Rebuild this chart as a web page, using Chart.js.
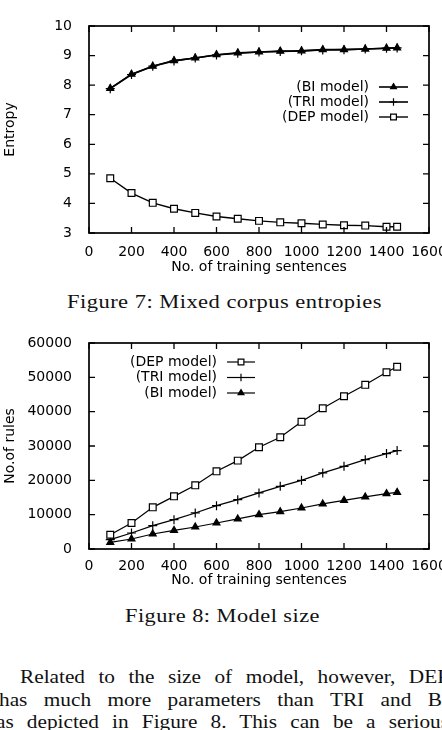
<!DOCTYPE html>
<html>
<head>
<meta charset="utf-8">
<script src="https://cdn.jsdelivr.net/npm/chart.js@4.4.1/dist/chart.umd.min.js"></script>
<style>
  html, body { margin: 0; padding: 0; background: #fff; }
  body { width: 442px; height: 730px; overflow: hidden; position: relative; }
  canvas { position: absolute; left: 0; }
  #c1 { top: 0; }
  #c2 { top: 300px; }
  .txt {
    position: absolute; white-space: nowrap; display: inline-block; transform-origin: 0 0;
    font-family: "Liberation Serif", "DejaVu Serif", serif; font-size: 19px; line-height: 19px; color: #111;
  }
</style>
</head>
<body>
<canvas id="c1" width="480" height="276"></canvas>
<span class="txt" style="left:67px; top:292px" data-w="315" data-mode="cap">Figure 7: Mixed corpus entropies</span>
<canvas id="c2" width="480" height="289"></canvas>
<span class="txt" style="left:125px; top:606px" data-w="195" data-mode="cap">Figure 8: Model size</span>
<span class="txt" style="left:20px; top:667px" data-w="429" data-mode="word">Related to the size of model, however, DEP</span>
<span class="txt" style="left:-1px; top:690px" data-w="450" data-mode="word">has much more parameters than TRI and BI</span>
<span class="txt" style="left:-4px; top:712px" data-w="453" data-mode="word">as depicted in Figure 8. This can be a serious</span>

<script>
// values
const sentences = [100, 200, 300, 400, 500, 600, 700, 800, 900, 1000, 1100, 1200, 1300, 1400, 1450];
const xTicks = [0, 200, 400, 600, 800, 1000, 1200, 1400, 1600];

// Figure 7: entropy
const entropyBI  = [7.89, 8.37, 8.64, 8.83, 8.92, 9.03, 9.09, 9.12, 9.15, 9.16, 9.20, 9.20, 9.22, 9.25, 9.26];
const entropyTRI = [7.88, 8.36, 8.64, 8.82, 8.92, 9.02, 9.08, 9.12, 9.14, 9.16, 9.19, 9.20, 9.22, 9.25, 9.26];
const entropyDEP = [4.85, 4.35, 4.02, 3.82, 3.68, 3.56, 3.48, 3.41, 3.36, 3.33, 3.29, 3.26, 3.25, 3.21, 3.21];

// Figure 8: number of rules
const rulesDEP = [4170, 7580, 12130, 15330, 18540, 22620, 25740, 29620, 32540, 37030, 41000, 44490, 47810, 51490, 53060];
const rulesTRI = [2710, 4660, 6790, 8540, 10500, 12620, 14370, 16330, 18250, 20000, 22160, 24080, 26030, 27780, 28660];
const rulesBI  = [1920, 2910, 4370, 5420, 6410, 7580, 8750, 10000, 10870, 11950, 13120, 14170, 15160, 16120, 16500];

const FONT = { family: '"DejaVu Sans", sans-serif', size: 14 };

function pts(ys) {
    return sentences.map((x, i) => ({ x: x, y: ys[i] }));
}

function series(label, ys, style, width) {
    const base = {
        label: label,
        data: pts(ys),
        borderColor: '#000',
        borderWidth: width,
        pointBorderColor: '#000',
        pointBorderWidth: 1.2,
        tension: 0,
        fill: false
    };
    if (style === 'tri') return Object.assign(base, { pointStyle: 'triangle', pointRadius: 4, pointBackgroundColor: '#000' });
    if (style === 'cross') return Object.assign(base, { pointStyle: 'cross', pointRadius: 4.5, pointBackgroundColor: '#000' });
    return Object.assign(base, { pointStyle: 'rect', pointRadius: 4.8, pointBackgroundColor: '#fff' });
}

// gnuplot look: full frame with inward ticks on all four sides
const gnuplotFrame = {
    id: 'gnuplotFrame',
    afterDatasetsDraw(chart) {
        const { ctx, chartArea: a, scales: { x, y } } = chart;
        ctx.save();
        ctx.strokeStyle = '#000';
        ctx.lineWidth = 1.3;
        ctx.beginPath();
        x.ticks.forEach(t => {
            const px = x.getPixelForValue(t.value);
            ctx.moveTo(px, a.bottom); ctx.lineTo(px, a.bottom - 6);
            ctx.moveTo(px, a.top); ctx.lineTo(px, a.top + 6);
        });
        y.ticks.forEach(t => {
            const py = y.getPixelForValue(t.value);
            ctx.moveTo(a.left, py); ctx.lineTo(a.left + 6, py);
            ctx.moveTo(a.right, py); ctx.lineTo(a.right - 6, py);
        });
        ctx.stroke();
        ctx.lineWidth = 1.7;
        ctx.strokeRect(a.left, a.top, a.right - a.left, a.bottom - a.top);
        ctx.restore();
    }
};

// key inside the plot: right aligned text, then a line sample with the marker
const gnuplotKey = {
    id: 'gnuplotKey',
    afterDraw(chart, args, o) {
        const ctx = chart.ctx;
        ctx.save();
        ctx.font = FONT.size + 'px ' + FONT.family;
        ctx.textAlign = 'right';
        ctx.textBaseline = 'middle';
        chart.data.datasets.forEach((ds, i) => {
            const yy = o.y0 + i * o.dy;
            ctx.fillStyle = '#000';
            ctx.fillText(ds.label, o.textRight, yy);
            ctx.strokeStyle = '#000';
            ctx.lineWidth = ds.borderWidth;
            ctx.beginPath();
            ctx.moveTo(o.x1, yy); ctx.lineTo(o.x2, yy);
            ctx.stroke();
            if (Chart.helpers && Chart.helpers.drawPoint) {
                ctx.fillStyle = ds.pointBackgroundColor;
                ctx.lineWidth = ds.pointBorderWidth;
                Chart.helpers.drawPoint(ctx, { pointStyle: ds.pointStyle, radius: ds.pointRadius * 0.85, rotation: 0, borderWidth: ds.pointBorderWidth }, (o.x1 + o.x2) / 2, yy);
            }
        });
        ctx.restore();
    }
};

function makeChart(id, datasets, yMin, yMax, yStep, yTitle, xHeight, padTop, tickPad, key) {
    return new Chart(document.getElementById(id), {
        type: 'line',
        data: { datasets: datasets },
        plugins: [gnuplotFrame, gnuplotKey],
        options: {
            responsive: false,
            animation: false,
            layout: { padding: { top: padTop, right: 51, bottom: 0, left: 0 } },
            plugins: {
                legend: { display: false },
                tooltip: { enabled: false },
                gnuplotKey: key
            },
            scales: {
                x: {
                    type: 'linear', min: 0, max: 1600,
                    afterBuildTicks: s => { s.ticks = xTicks.map(v => ({ value: v })); },
                    afterFit: s => { s.height = xHeight; },
                    grid: { display: false },
                    border: { display: false },
                    ticks: { color: '#000', font: FONT, padding: tickPad, maxRotation: 0, callback: v => String(v) },
                    title: { display: true, text: 'No. of training sentences', color: '#000', font: FONT, padding: { top: 0, bottom: 0 } }
                },
                y: {
                    min: yMin, max: yMax,
                    afterFit: s => { s.width = 89; },
                    grid: { display: false },
                    border: { display: false },
                    ticks: { color: '#000', font: FONT, padding: 9, stepSize: yStep, callback: v => String(v) },
                    title: { display: true, text: yTitle, color: '#000', font: FONT, padding: { top: 2, bottom: 0 } }
                }
            }
        }
    });
}

makeChart('c1', [
    series('(BI model)', entropyBI, 'tri', 1.6),
    series('(TRI model)', entropyTRI, 'cross', 1.6),
    series('(DEP model)', entropyDEP, 'rect', 1.4)
], 3, 10, 1, 'Entropy', 43, 26, 3, { textRight: 369, x1: 379, x2: 408, y0: 87, dy: 15 });

makeChart('c2', [
    series('(DEP model)', rulesDEP, 'rect', 1.2),
    series('(TRI model)', rulesTRI, 'cross', 1.2),
    series('(BI model)', rulesBI, 'tri', 1.2)
], 0, 60000, 10000, 'No.of rules', 40, 43, 1, { textRight: 217, x1: 227, x2: 255, y0: 62, dy: 15.5 });

// stretch the scanned-paper text lines to their measured widths
document.querySelectorAll('.txt').forEach(el => {
    const target = +el.dataset.w;
    const natural = el.getBoundingClientRect().width;
    const text = el.textContent;
    if (el.dataset.mode === 'cap') {
        el.style.letterSpacing = '0.4px';
        const w2 = el.getBoundingClientRect().width;
        el.style.transform = 'scaleX(' + (target / w2) + ')';
    } else {
        const sx = 1.12;
        const gaps = text.split(' ').length - 1;
        el.style.wordSpacing = ((target / sx - natural) / gaps) + 'px';
        el.style.transform = 'scaleX(' + sx + ')';
    }
});
</script>
</body>
</html>
